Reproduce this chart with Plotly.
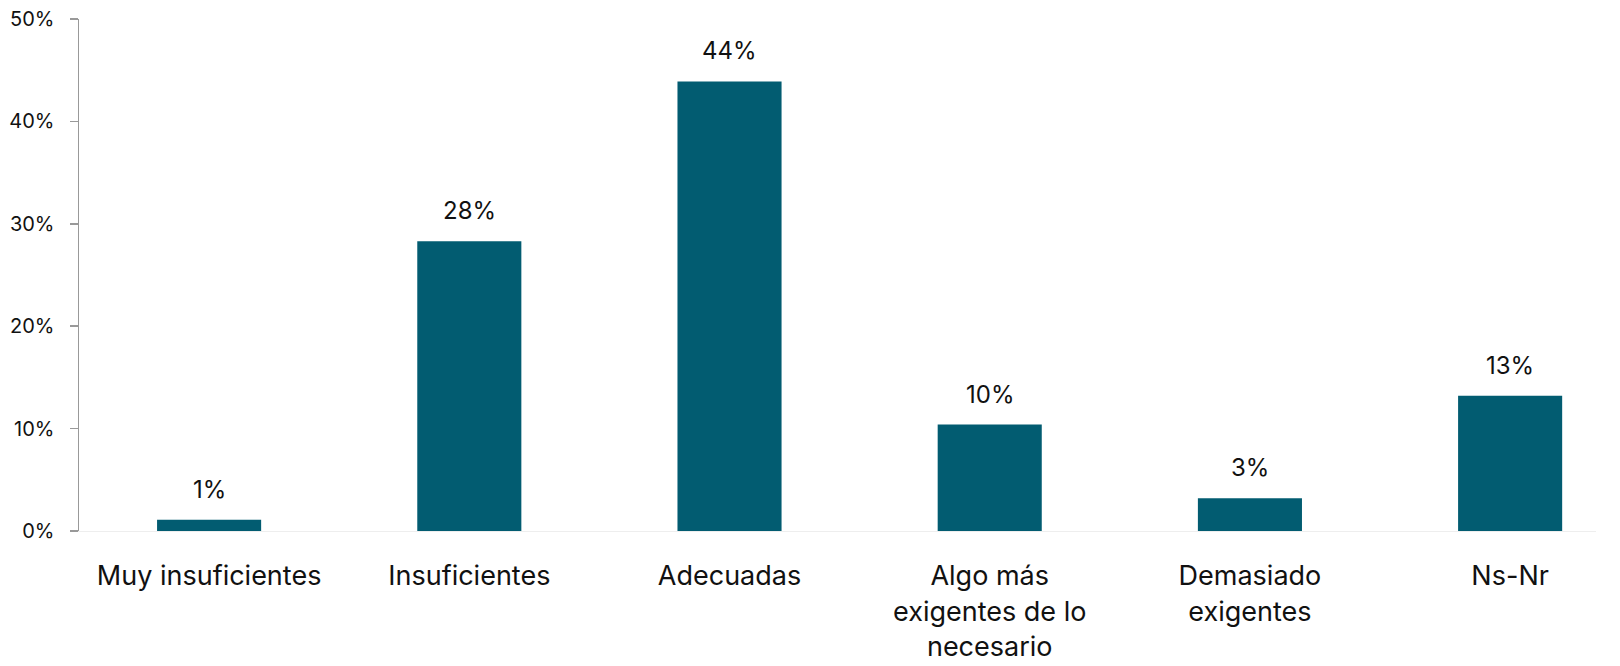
import plotly.graph_objects as go

categories = ["Muy insuficientes", "Insuficientes", "Adecuadas",
              "Algo más<br>exigentes de lo<br>necesario", "Demasiado<br>exigentes", "Ns-Nr"]
values = [1.1, 28.3, 43.9, 10.4, 3.2, 13.2]
labels = ["1%", "28%", "44%", "10%", "3%", "13%"]
y_ticks = [0, 10, 20, 30, 40, 50]
y_ticktext = ["0%", "10%", "20%", "30%", "40%", "50%"]

FONT = "Inter, Poppins, sans-serif"
BAR = "#025c71"

fig = go.Figure()
fig.add_trace(go.Bar(x=list(range(len(categories))), y=values, width=0.4,
                     marker=dict(color=BAR, line=dict(width=0)), showlegend=False,
                     hoverinfo="skip"))

for i, (v, t) in enumerate(zip(values, labels)):
    fig.add_annotation(x=i, y=v, text=t, showarrow=False, yanchor="bottom",
                       yshift=14, font=dict(family=FONT, size=24, color="#111111"))

fig.update_layout(
    width=1620, height=666,
    margin=dict(l=79, r=24, t=19, b=135),
    paper_bgcolor="white", plot_bgcolor="white",
    font=dict(family=FONT, color="#111111"),
    bargap=0.6,
)
fig.update_xaxes(
    range=[-0.5, 5.33], tickmode="array", tickvals=list(range(len(categories))),
    ticktext=categories, tickfont=dict(family=FONT, size=27, color="#111111"),
    showline=True, linecolor="#eeeeee", linewidth=1, ticks="", ticklabelstandoff=21,
    showgrid=False, zeroline=False, fixedrange=True, automargin=False,
    ticklabeloverflow="allow",
)
fig.update_yaxes(
    range=[0, 50], tickmode="array", tickvals=y_ticks, ticktext=y_ticktext,
    tickfont=dict(family=FONT, size=20, color="#111111"),
    showline=True, linecolor="#999999", linewidth=1.5, ticks="outside", ticklen=8,
    tickcolor="#999999", tickwidth=1.5, ticklabelstandoff=11,
    showgrid=False, zeroline=False, fixedrange=True, automargin=False,
    ticklabeloverflow="allow",
)

fig.write_html("out.html", config={"displayModeBar": False, "staticPlot": True},
               post_script="document.body.style.margin='0';")
